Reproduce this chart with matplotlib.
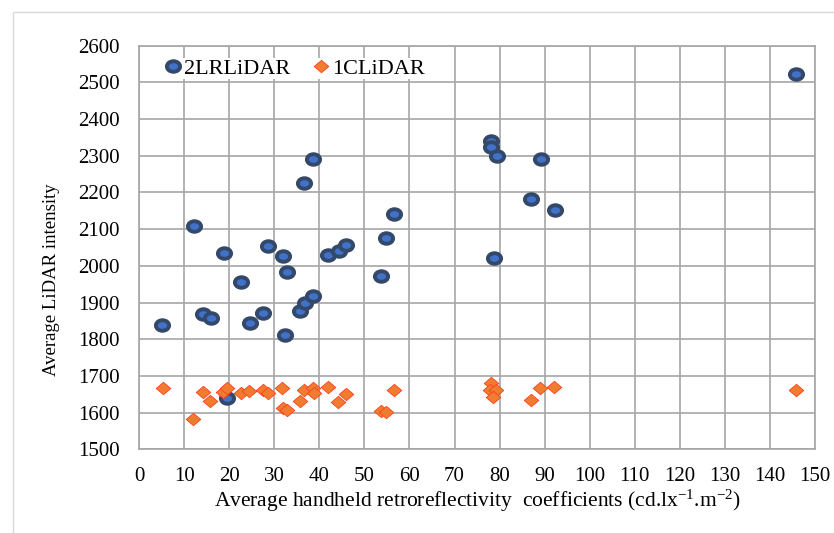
import matplotlib.pyplot as plt
from matplotlib.path import Path
from matplotlib.transforms import Affine2D
from matplotlib.patches import Rectangle

# Handheld retroreflectivity (x) vs average LiDAR intensity (y)
x_2lr = [5.0, 12.2, 14.1, 15.9, 18.8, 19.5, 22.6, 24.6, 27.4, 28.6, 31.9, 32.3,
         32.8, 35.7, 36.8, 36.6, 38.5, 38.5, 41.9, 44.3, 45.9, 53.7, 54.8, 56.6,
         78.1, 78.1, 79.4, 78.8, 87.0, 89.2, 92.3, 145.8]
y_2lr = [1838, 2108, 1868, 1857, 2035, 1640, 1956, 1845, 1872, 2055, 2028, 1813,
         1984, 1877, 1898, 2225, 1918, 2290, 2030, 2040, 2058, 1972, 2077, 2141,
         2340, 2324, 2300, 2021, 2181, 2291, 2153, 2523]

x_1c = [5.2, 14.1, 15.8, 12.0, 18.6, 19.4, 22.6, 24.4, 27.4, 28.6, 31.7, 32.0,
        32.9, 35.6, 36.6, 38.5, 38.7, 41.9, 44.2, 45.9, 53.7, 54.8, 56.6, 78.0,
        77.8, 79.3, 78.6, 88.9, 92.1, 87.0, 145.8]
y_1c = [1668, 1656, 1631, 1584, 1656, 1668, 1654, 1658, 1663, 1653, 1668, 1612,
        1607, 1632, 1662, 1668, 1653, 1671, 1628, 1651, 1604, 1602, 1662, 1681,
        1661, 1663, 1642, 1666, 1669, 1634, 1662]

xticks = list(range(0, 151, 10))
yticks = list(range(1500, 2601, 100))

plt.rcParams['font.family'] = ['Liberation Serif', 'DejaVu Serif']
plt.rcParams['mathtext.fontset'] = 'custom'
plt.rcParams['mathtext.rm'] = 'Liberation Serif'
plt.rcParams['mathtext.default'] = 'regular'

# slightly flattened marker shapes
ellipse = Path.unit_circle().transformed(Affine2D().scale(1.0, 0.8))
diamond = Path([(0, 1), (1, 0), (0, -1), (-1, 0), (0, 1)],
               [Path.MOVETO, Path.LINETO, Path.LINETO, Path.LINETO, Path.CLOSEPOLY])
diamond = diamond.transformed(Affine2D().scale(1.0, 0.85))

fig = plt.figure(figsize=(8.34, 5.33), dpi=100)
fig.patches.append(Rectangle((13 / 834, -0.1), 1.2, 1.1 - 12 / 533,
                             transform=fig.transFigure, fill=False,
                             edgecolor='#D9D9D9', linewidth=1.0))
ax = fig.add_axes([0.167, 0.1568, 0.81, 0.7576])

ax.plot(x_2lr, y_2lr, linestyle='none', marker=ellipse, markersize=9.5,
        markerfacecolor='#3F72C8', markeredgecolor='#34496A',
        markeredgewidth=2.8, label='2LRLiDAR', zorder=3)
ax.plot(x_1c, y_1c, linestyle='none', marker=diamond, markersize=10.5,
        markerfacecolor='#F07C30', markeredgecolor='#FF4020',
        markeredgewidth=0.6, label='1CLiDAR', zorder=4)

ax.set_xlim(0, 150)
ax.set_ylim(1500, 2600)
ax.set_xticks(xticks)
ax.set_yticks(yticks)
ax.tick_params(length=0, labelsize=15, pad=13)
ax.tick_params(axis='y', pad=14)
ax.grid(True, color='#A6A6A6', linewidth=1.2)
ax.set_axisbelow(True)
for s in ax.spines.values():
    s.set_color('#A6A6A6')
    s.set_linewidth(1.2)

ax.set_xlabel('Average handheld retroreflectivity  coefficients (cd.lx$^{-1}$.m$^{-2}$)',
              fontsize=15.5, labelpad=1)
ax.set_ylabel('Average LiDAR intensity', fontsize=13.5)
ax.yaxis.set_label_coords(-0.117, 0.42)

leg = ax.legend(loc='upper left', bbox_to_anchor=(0.017, 0.997), ncol=2,
                fontsize=16, frameon=True, framealpha=1, edgecolor='white',
                fancybox=False, borderpad=0.0, handletextpad=0.0,
                columnspacing=0.9, handlelength=1.0)
leg.get_frame().set_linewidth(0)

fig.savefig('out.png', dpi=100)
